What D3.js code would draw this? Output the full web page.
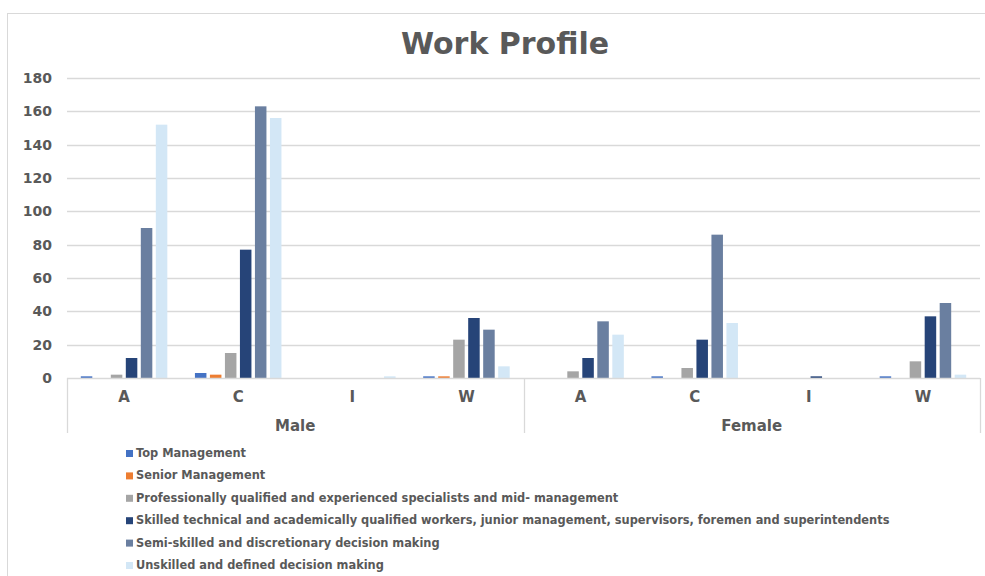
<!DOCTYPE html>
<html>
<head>
<meta charset="utf-8">
<script src="https://cdn.jsdelivr.net/npm/d3@7"></script>
<style>
  body { margin: 0; background: #fff; }
  svg text { font-family: "DejaVu Sans", Verdana, sans-serif; font-weight: bold; fill: #595959; }
</style>
</head>
<body>
<div id="graph"></div>
<script>
// donnees
let genres = ["Male", "Female"];
let groupes = ["A", "C", "I", "W"];
let series = [
  "Top Management",
  "Senior Management",
  "Professionally qualified and experienced specialists and mid- management",
  "Skilled technical and academically qualified workers, junior management, supervisors, foremen and superintendents",
  "Semi-skilled and discretionary decision making",
  "Unskilled and defined decision making"
];
let couleurs = ["#4472C4", "#ED7D31", "#A5A5A5", "#264478", "#6A7FA0", "#D3E7F6"];

// une ligne par serie, 8 valeurs : Male A C I W puis Female A C I W
let topMgmt     = [1, 3, 0, 1, 0, 1, 0, 1];
let seniorMgmt  = [0, 2, 0, 1, 0, 0, 0, 0];
let profQual    = [2, 15, 0, 23, 4, 6, 0, 10];
let skilled     = [12, 77, 0, 36, 12, 23, 1, 37];
let semiSkilled = [90, 163, 0, 29, 34, 86, 0, 45];
let unskilled   = [152, 156, 1, 7, 26, 33, 0, 2];
let valeurs = [topMgmt, seniorMgmt, profQual, skilled, semiSkilled, unskilled];

let ticksY = [0, 20, 40, 60, 80, 100, 120, 140, 160, 180];

let categories = [];
genres.forEach(g => groupes.forEach(c => categories.push(g + "|" + c)));

let donnees = categories.map((cat, i) => ({
  cat: cat,
  vals: series.map((s, j) => ({ serie: s, v: valeurs[j][i] }))
}));

let largeurTotale = 985, hauteurTotale = 576;
let marges = { gauche: 67, droit: 5, haut: 78, bas: 198 };
let largeurInterne = largeurTotale - marges.gauche - marges.droit;
let hauteurInterne = hauteurTotale - marges.haut - marges.bas;

let svg = d3.select("#graph").append("svg")
  .attr("width", largeurTotale)
  .attr("height", hauteurTotale);

// cadre du graphique
svg.append("rect")
  .attr("x", 7.5).attr("y", 13.5)
  .attr("width", 990).attr("height", 600)
  .attr("fill", "none").attr("stroke", "#d9d9d9");

svg.append("text")
  .attr("x", 505).attr("y", 54)
  .attr("text-anchor", "middle")
  .style("font-size", "30px")
  .text("Work Profile");

let g = svg.append("g")
  .attr("transform", "translate(" + marges.gauche + "," + marges.haut + ")");

let echelleY = d3.scaleLinear().domain([0, 180]).range([hauteurInterne, 0]);
let echelleX = d3.scaleBand().domain(categories).range([0, largeurInterne]);
let echelleS = d3.scaleBand().domain(series).range([0, echelleX.bandwidth()])
  .paddingInner(0.233).paddingOuter(0.92);
let echelleCouleur = d3.scaleOrdinal().domain(series).range(couleurs);

// grille horizontale
g.append("g")
  .selectAll("line")
  .data(ticksY.filter(t => t > 0))
  .enter().append("line")
  .attr("x1", 0).attr("x2", largeurInterne)
  .attr("y1", d => Math.round(echelleY(d)) + 0.5)
  .attr("y2", d => Math.round(echelleY(d)) + 0.5)
  .attr("stroke", "#d9d9d9").attr("stroke-width", 1.3);

// axe Y
let axeY = d3.axisLeft(echelleY).tickValues(ticksY).tickSize(0).tickPadding(15);
let gY = g.append("g").call(axeY);
gY.select(".domain").remove();
gY.selectAll("text").style("font-size", "14px").attr("fill", "#595959");

// barres
g.selectAll(".groupe")
  .data(donnees)
  .enter().append("g")
  .attr("transform", d => "translate(" + echelleX(d.cat) + ",0)")
  .selectAll("rect")
  .data(d => d.vals)
  .enter().append("rect")
  .attr("x", d => echelleS(d.serie))
  .attr("width", echelleS.bandwidth())
  .attr("y", d => echelleY(d.v))
  .attr("height", d => hauteurInterne - echelleY(d.v))
  .attr("fill", d => echelleCouleur(d.serie));

// axe X multi-niveaux
let axeX = d3.axisBottom(echelleX).tickSize(0).tickPadding(13)
  .tickFormat(d => d.split("|")[1]);
let gX = g.append("g")
  .attr("transform", "translate(0," + hauteurInterne + ")")
  .call(axeX);
gX.select(".domain").remove();
gX.selectAll("text").style("font-size", "15px").attr("fill", "#595959");

let hautAxe = 55;
g.append("line")
  .attr("x1", 0).attr("x2", largeurInterne)
  .attr("y1", hauteurInterne + 0.5).attr("y2", hauteurInterne + 0.5)
  .attr("stroke", "#d9d9d9").attr("stroke-width", 1.3);

let echelleGenre = d3.scaleBand().domain(genres).range([0, largeurInterne]);
let bords = [0, echelleGenre("Female"), largeurInterne];
g.selectAll(".sep")
  .data(bords)
  .enter().append("line")
  .attr("x1", d => Math.round(d) + 0.5).attr("x2", d => Math.round(d) + 0.5)
  .attr("y1", hauteurInterne).attr("y2", hauteurInterne + hautAxe)
  .attr("stroke", "#d9d9d9").attr("stroke-width", 1.3);

g.selectAll(".genre")
  .data(genres)
  .enter().append("text")
  .attr("x", d => echelleGenre(d) + echelleGenre.bandwidth() / 2)
  .attr("y", hauteurInterne + 53)
  .attr("text-anchor", "middle")
  .style("font-size", "15px")
  .text(d => d);

// legende
let legende = svg.append("g").attr("transform", "translate(126,457)");
let ligne = legende.selectAll("g")
  .data(series)
  .enter().append("g")
  .attr("transform", (d, i) => "translate(0," + (i * 22.4) + ")");
ligne.append("rect")
  .attr("x", 0).attr("y", -7)
  .attr("width", 7).attr("height", 7)
  .attr("fill", d => echelleCouleur(d));
ligne.append("text")
  .attr("x", 10).attr("y", 0)
  .style("font-size", "11.4px")
  .text(d => d);
</script>
</body>
</html>
